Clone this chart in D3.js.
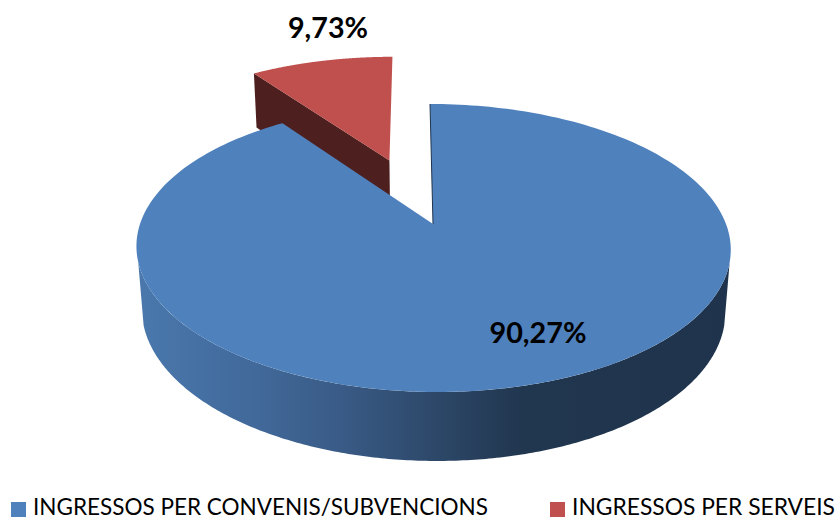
<!DOCTYPE html>
<html><head><meta charset="utf-8">
<style>html,body{margin:0;padding:0;background:#fff}svg{display:block}</style>
<script src="https://cdn.jsdelivr.net/npm/d3@7/dist/d3.min.js"></script>
</head><body><script>
const categories = ["INGRESSOS PER CONVENIS/SUBVENCIONS", "INGRESSOS PER SERVEIS"];
const values = [90.27, 9.73];
const labels = ["90,27%", "9,73%"];
const colors = ["#4f81bd", "#c0504d"];

const W = 836, H = 520;
const svg = d3.select("body").append("svg").attr("width", W).attr("height", H)
  .style("font-family", "Lato, 'Open Sans', sans-serif");

// perspective disc projection
const cx = 433, cy = 224, Rx = 293, Ry = 140, k = 1 / 6, mx = 0.018, m = 0.025, D = 63.4, shear = -3.5;
const explode = 0.515;
function project(u, v, bottom) {
  const w = 1 + k * v;
  return [cx + (Rx * u + shear * v) / (w + (bottom ? mx : 0)), cy + (-Ry * v + (bottom ? D : 0)) / (w + (bottom ? m : 0))];
}
const slices = d3.pie().sort(null).startAngle(0).endAngle(2 * Math.PI)(values);
const offset = s => {
  if (s.index === 0) return [0, 0];
  const mid = (s.startAngle + s.endAngle) / 2;
  return [Math.sin(mid) * explode, Math.cos(mid) * explode];
};
const rim = (a, o, bottom) => project(o[0] + Math.sin(a), o[1] + Math.cos(a), bottom);
const angles = (a0, a1) => d3.range(0, 241).map(i => a0 + (a1 - a0) * i / 240);
const line = d3.line();

const defs = svg.append("defs");
const grad = defs.append("linearGradient").attr("id", "side")
  .attr("gradientUnits", "userSpaceOnUse").attr("x1", 137).attr("x2", 731).attr("y1", 0).attr("y2", 0);
[[0, "#4a78ad"], [0.2, "#41699a"], [0.35, "#395a85"], [0.5, "#2d4869"], [0.65, "#21364f"], [1, "#1f334c"]]
  .forEach(d => grad.append("stop").attr("offset", d[0]).attr("stop-color", d[1]));

function sector(s, bottom) {
  const o = offset(s);
  return line([project(o[0], o[1], bottom), ...angles(s.startAngle, s.endAngle).map(a => rim(a, o, bottom))]) + "Z";
}
function radialWall(s, a) {
  const o = offset(s);
  return line([project(o[0], o[1], false), rim(a, o, false), rim(a, o, true), project(o[0], o[1], true)]) + "Z";
}

// red slice (behind)
const red = slices[1];
svg.append("path").attr("d", radialWall(red, red.startAngle)).attr("fill", "#4d1f1e");
svg.append("path").attr("d", sector(red, false)).attr("fill", colors[1]);

// blue slice: outer wall between the silhouette tangents, then top
const blue = slices[0];
const o0 = offset(blue);
const tangent = Math.PI / 2 + 0.263;
const sideA = angles(tangent, 2 * Math.PI - tangent);
svg.append("path")
  .attr("d", line([...sideA.map(a => rim(a, o0, false)), ...sideA.slice().reverse().map(a => rim(a, o0, true))]) + "Z")
  .attr("fill", "url(#side)");
svg.append("path").attr("d", sector(blue, false)).attr("fill", colors[0]);
svg.append("path").attr("d", line([project(0, 0, false), rim(blue.startAngle, o0, false)]))
  .attr("stroke", "#1f344e").attr("stroke-width", 1).attr("fill", "none");

// data labels
svg.append("text").attr("x", 538).attr("y", 343).attr("text-anchor", "middle")
  .attr("font-size", 28).attr("font-weight", 700).attr("textLength", 97).attr("lengthAdjust", "spacingAndGlyphs").attr("fill", "#000").text(labels[0]);
svg.append("text").attr("x", 328).attr("y", 38).attr("text-anchor", "middle")
  .attr("font-size", 28).attr("font-weight", 700).attr("textLength", 80).attr("lengthAdjust", "spacingAndGlyphs").attr("fill", "#000").text(labels[1]);

// legend
const legendX = d3.scaleOrdinal().domain(categories).range([11, 550]);
const legendW = d3.scaleOrdinal().domain(categories).range([455, 263]);
const lg = svg.selectAll("g.lg").data(categories).join("g").attr("class", "lg")
  .attr("transform", d => `translate(${legendX(d)},0)`);
lg.append("rect").attr("x", 0).attr("y", 502).attr("width", 15).attr("height", 15).attr("fill", (d, i) => colors[i]);
lg.append("text").attr("x", 22).attr("y", 515.4).attr("font-size", 23).attr("fill", "#000")
  .attr("textLength", d => legendW(d)).attr("lengthAdjust", "spacingAndGlyphs").text(d => d);
</script></body></html>
